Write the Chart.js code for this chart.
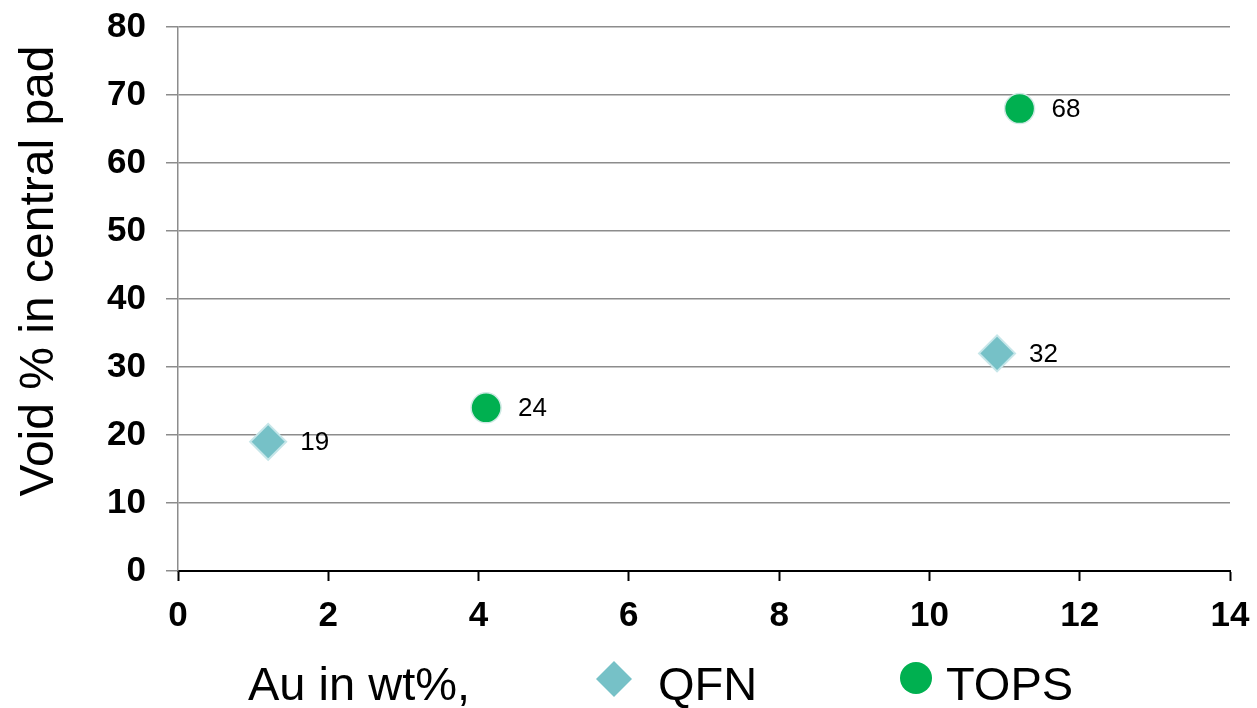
<!DOCTYPE html>
<html lang="en">
<head>
    <meta charset="UTF-8">
    <title>Void % vs Au wt%</title>
    <script src="https://cdn.jsdelivr.net/npm/chart.js"></script>
    <style>
        body { margin: 0; background: #fff; }
    </style>
</head>
<body>
    <div style="width: 1257px; height: 708px; position: relative">
    <canvas id="myChart"></canvas>
    </div>
    <script>
        // data
        const qfnX = [1.2, 10.9];
        const qfnY = [19, 32];
        const topsX = [4.1, 11.2];
        const topsY = [24, 68];
        const seriesNames = ['QFN', 'TOPS'];
        const xTitle = 'Au in wt%,';
        const yTitle = 'Void % in central pad';

        const FONT = '"Liberation Sans", Arial, sans-serif';
        const QFN_COLOR = '#76C1C7';
        const TOPS_COLOR = '#00B050';

        function toPoints(xs, ys) {
            return xs.map((x, i) => ({ x: x, y: ys[i] }));
        }

        // value labels, y title and the bottom row (x title + legend)
        const extras = {
            id: 'extras',
            afterDatasetsDraw(chart) {
                const ctx = chart.ctx;
                ctx.save();
                ctx.fillStyle = '#000';
                ctx.font = '26px ' + FONT;
                ctx.textAlign = 'left';
                ctx.textBaseline = 'middle';
                chart.data.datasets.forEach((ds, i) => {
                    chart.getDatasetMeta(i).data.forEach((pt, j) => {
                        ctx.fillText(String(ds.data[j].y), pt.x + 32, pt.y + 1);
                    });
                });

                // y title
                ctx.font = '48px ' + FONT;
                ctx.translate(53, 271);
                ctx.rotate(-Math.PI / 2);
                ctx.textAlign = 'center';
                ctx.textBaseline = 'alphabetic';
                ctx.fillText(yTitle, 0, 0);
                ctx.restore();

                // bottom row
                ctx.save();
                ctx.fillStyle = '#000';
                ctx.font = '47px ' + FONT;
                ctx.textBaseline = 'alphabetic';
                ctx.fillText(xTitle, 248, 700);
                ctx.fillText(seriesNames[0], 658, 700);
                ctx.fillText(seriesNames[1], 946, 700);

                // diamond marker
                ctx.fillStyle = QFN_COLOR;
                ctx.beginPath();
                ctx.moveTo(614 - 18, 679);
                ctx.lineTo(614, 679 - 18);
                ctx.lineTo(614 + 18, 679);
                ctx.lineTo(614, 679 + 18);
                ctx.closePath();
                ctx.fill();
                // circle marker
                ctx.fillStyle = TOPS_COLOR;
                ctx.beginPath();
                ctx.arc(916, 678, 16, 0, Math.PI * 2);
                ctx.fill();
                ctx.restore();
            }
        };

        const data = {
            datasets: [
                {
                    label: seriesNames[0],
                    data: toPoints(qfnX, qfnY),
                    pointStyle: 'rectRot',
                    pointRadius: 18,
                    pointHoverRadius: 18,
                    backgroundColor: QFN_COLOR,
                    borderColor: '#C6E6E9',
                    borderWidth: 2
                },
                {
                    label: seriesNames[1],
                    data: toPoints(topsX, topsY),
                    pointStyle: 'circle',
                    pointRadius: 15,
                    pointHoverRadius: 15,
                    backgroundColor: TOPS_COLOR,
                    borderColor: '#CFE9E4',
                    borderWidth: 1.5
                }
            ]
        };

        const config = {
            type: 'scatter',
            data: data,
            options: {
                responsive: true,
                maintainAspectRatio: false,
                animation: false,
                layout: { padding: { top: 27, right: 27, left: 0, bottom: 0 } },
                plugins: {
                    legend: { display: false },
                    tooltip: { enabled: false }
                },
                scales: {
                    x: {
                        min: 0,
                        max: 14,
                        ticks: {
                            stepSize: 2,
                            color: '#000',
                            padding: 14,
                            font: { family: FONT, size: 35, weight: 'bold' }
                        },
                        grid: {
                            drawOnChartArea: false,
                            drawTicks: true,
                            tickLength: 10,
                            tickColor: '#000',
                            tickWidth: 2
                        },
                        border: { color: '#000', width: 2 },
                        afterFit(scale) {
                            scale.height = 137;
                            scale.paddingLeft = 0;
                            scale.paddingRight = 0;
                        }
                    },
                    y: {
                        min: 0,
                        max: 80,
                        ticks: {
                            stepSize: 10,
                            color: '#000',
                            padding: 20,
                            font: { family: FONT, size: 35, weight: 'bold' }
                        },
                        grid: {
                            color: '#8c8c8c',
                            lineWidth: 1.5,
                            tickLength: 12
                        },
                        border: { color: '#8c8c8c', width: 1.5 },
                        afterFit(scale) {
                            scale.width = 178;
                            scale.paddingTop = 0;
                            scale.paddingBottom = 0;
                        }
                    }
                }
            },
            plugins: [extras]
        };

        const ctx = document.getElementById('myChart').getContext('2d');
        const myChart = new Chart(ctx, config);
    </script>
</body>
</html>
